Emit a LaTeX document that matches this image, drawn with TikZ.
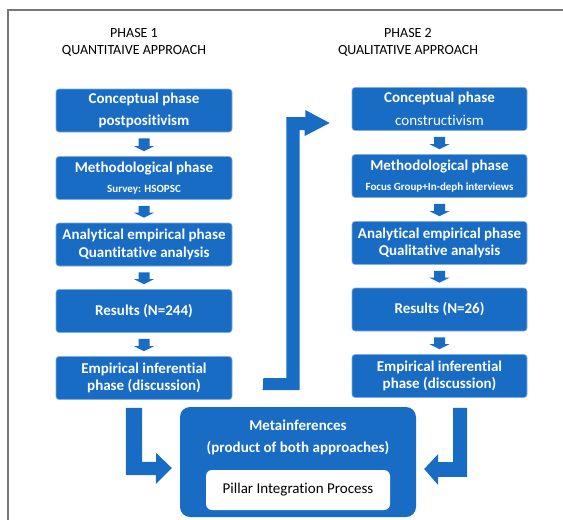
\documentclass[tikz,border=0pt]{standalone}
\usepackage{fontspec}
\setmainfont{Carlito}[Ligatures={NoCommon,NoRequired,NoContextual},Contextuals=NoAlternate]
\usetikzlibrary{calc}
\definecolor{myblue}{RGB}{24,108,196}
\definecolor{framegray}{RGB}{120,120,120}
\newcommand\smallfnt{\bfseries\fontsize{11}{13}\selectfont}
\tikzset{
  box/.style={rectangle, rounded corners=3pt, fill=myblue, draw=myblue!55!white, line width=0.6pt,
    minimum width=176pt, minimum height=43pt, inner sep=0pt, text=white, align=center,
    font=\bfseries\fontsize{15}{17.5}\selectfont},
  title/.style={align=center, font=\fontsize{14}{17}\selectfont, text=black},
  arr/.style={fill=myblue},
}
\newcommand\smallarr[2]{%
  \fill[arr] ($(#1.south)+(-5.5,6)$) -- ($(#1.south)+(5.5,6)$) -- ($(#2.north)+(5.5,-10)$)
    -- ($(#2.north)+(10,-10)$) -- ($(#2.north)+(0,-5)$) -- ($(#2.north)+(-10,-10)$)
    -- ($(#2.north)+(-5.5,-10)$) -- cycle;}
\begin{document}
\begin{tikzpicture}[x=1pt,y=-1pt]
\useasboundingbox (0,0) rectangle (563,520);
\draw[framegray, line width=1.4pt] (563,10) -- (8,10) -- (8,520);

\node[title] (T1) at (134,42.5) {PHASE 1\\QUANTITAIVE APPROACH};
\node[title] (T2) at (408,42.5) {PHASE 2\\QUALITATIVE APPROACH};

% left column
\node[box] (L1) at (144,110.5) {Conceptual phase\\[5pt]postpositivism};
\node[box] (L2) at (144,178) {Methodological phase\\[3pt]{\smallfnt Survey: HSOPSC}};
\node[box] (L3) at (144,244.5) {Analytical empirical phase\\Quantitative analysis};
\node[box] (L4) at (144,311) {Results (N=244)};
\node[box] (L5) at (144,378) {Empirical inferential\\phase (discussion)};

% right column
\node[box, minimum width=175pt] (R1) at (439.5,109) {Conceptual phase\\[6pt]{\mdseries constructivism}};
\node[box, minimum width=175pt] (R2) at (439.5,176) {Methodological phase\\[3pt]{\smallfnt Focus Group+In-deph interviews}};
\node[box, minimum width=175pt] (R3) at (439.5,243) {Analytical empirical phase\\Qualitative analysis};
\node[box, minimum width=175pt] (R4) at (439.5,309.5) {Results (N=26)};
\node[box, minimum width=175pt] (R5) at (439.5,376) {Empirical inferential\\phase (discussion)};

\smallarr{L1}{L2}
\smallarr{L2}{L3}
\smallarr{L3}{L4}
\smallarr{L4}{L5}
\smallarr{R1}{R2}
\smallarr{R2}{R3}
\smallarr{R3}{R4}
\smallarr{R4}{R5}

% metainferences
\node[rectangle, rounded corners=10pt, fill=myblue, minimum width=236pt, minimum height=110pt, inner sep=0pt] (M) at (298,462) {};
\node[text=white, font=\bfseries\fontsize{15}{17}\selectfont] (M1) at ($(M.north)+(0,18)$) {Metainferences};
\node[text=white, font=\bfseries\fontsize{15}{17}\selectfont] (M2) at ($(M.north)+(0,41)$) {(product of both approaches)};
\node[rectangle, rounded corners=6pt, fill=white, minimum width=184pt, minimum height=40pt, inner sep=0pt,
  font=\fontsize{15}{17}\selectfont] (P) at (298,490) {Pillar Integration Process};

% bent arrows into metainferences
\coordinate (la) at ($(L5.south)+(-18,8)$);
\coordinate (lt) at ($(M.west)+(-8,6)$);
\fill[arr] (la) -- ++(16,0) -- ++(0,54) -- ++(14,0) -- ++(0,-9) -- (lt) -- ++(-16,16) -- ++(0,-9) -- ++(-30,0) -- cycle;

\coordinate (ra) at ($(R5.south)+(13.5,10)$);
\coordinate (rt) at ($(M.east)+(8,7)$);
\fill[arr] (ra) -- ++(14,0) -- ++(0,69) -- ++(-29,0) -- ++(0,8) -- (rt) -- ++(14,-15) -- ++(0,8) -- ++(15,0) -- cycle;

% big arrow from phase 1 to phase 2
\coordinate (bs) at ($(L5.east)+(31,0)$);
\coordinate (bt) at ($(R1.west)+(-22,14)$);
\fill[arr] (bs) -- ++(23,0) -- ++(0,-261) -- ++(19,0) -- ++(0,-7) -- (bt) -- ++(-25,13) -- ++(0,-6) -- ++(-5,0) -- ++(0,260) -- ++(-37,0) -- cycle;
\end{tikzpicture}
\end{document}
